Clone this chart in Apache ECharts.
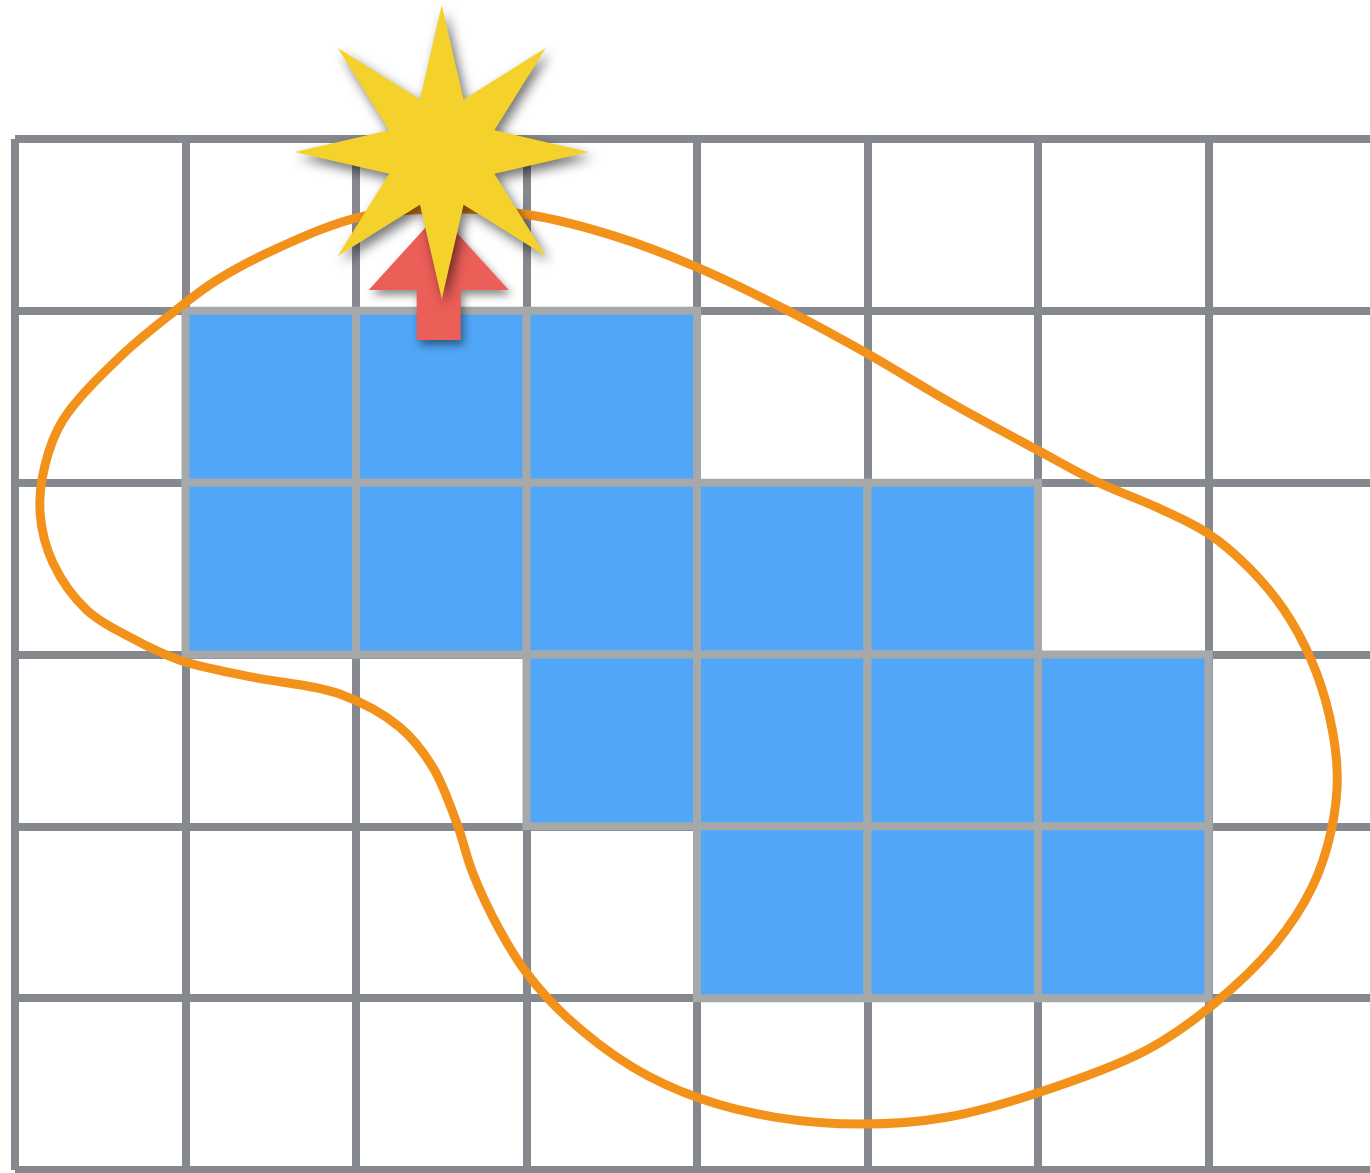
<!DOCTYPE html>
<html>
<head>
<meta charset="utf-8">
<script src="https://cdn.jsdelivr.net/npm/echarts@6/dist/echarts.min.js"></script>
<style>
html,body{margin:0;padding:0;background:#fff;}
#chart{width:1370px;height:1173px;}
</style>
</head>
<body>
<div id="chart"></div>
<script>
// Visible grid extent in cell units (the last column is cut by the page edge)
const xMax = 7.947;
const yMax = 6;

// Filled cells: [column, row] (row 0 = top)
const filledCells = [
  [1,1],[2,1],[3,1],
  [1,2],[2,2],[3,2],[4,2],[5,2],
  [3,3],[4,3],[5,3],[6,3],
  [4,4],[5,4],[6,4]
];

// Closed outline curve points [x, y] in grid units
const outlinePoints = [
  [2.497,0.407],[3.019,0.442],[3.517,0.565],[3.998,0.745],[4.525,0.995],
  [4.994,1.246],[5.481,1.531],[5.996,1.810],[6.360,2.002],[6.694,2.142],
  [6.993,2.293],[7.239,2.497],[7.444,2.742],[7.603,3.033],[7.708,3.353],
  [7.755,3.702],[7.720,4.022],[7.608,4.354],[7.386,4.691],[7.022,5.041],
  [6.635,5.303],[5.991,5.553],[5.463,5.693],[4.971,5.733],[4.455,5.692],
  [4.015,5.583],[3.623,5.402],[3.236,5.111],[3.001,4.854],[2.843,4.604],
  [2.685,4.272],[2.591,3.981],[2.450,3.655],[2.257,3.423],[1.905,3.230],
  [1.395,3.132],[0.967,3.033],[0.674,2.899],[0.422,2.742],[0.223,2.468],
  [0.147,2.177],[0.176,1.898],[0.281,1.636],[0.615,1.269],[0.967,0.978],
  [1.184,0.821],[1.553,0.629],[2.022,0.454]
];

// Marker positions
const starPoint = [[2.503, 0.076]];
const arrowPoint = [[2.485, 0.800]];

// Star shape path (8-pointed)
function starPath(R, r) {
  let d = '';
  for (let i = 0; i < 16; i++) {
    const a = (-90 + i * 22.5) * Math.PI / 180;
    const rad = i % 2 === 0 ? R : r;
    const x = (R + rad * Math.cos(a)).toFixed(2);
    const y = (R + rad * Math.sin(a)).toFixed(2);
    d += (i === 0 ? 'M' : 'L') + x + ' ' + y + ' ';
  }
  return 'path://' + d + 'Z';
}
const arrowPathStr = 'path://M70 0 L140 77 L92 77 L92 127 L48 127 L48 77 L0 77 Z';

// Closed centripetal Catmull-Rom spline through pixel points, as SVG path data
function closedSplinePath(pts) {
  const n = pts.length;
  const dist = (a, b) => Math.pow(Math.hypot(b[0] - a[0], b[1] - a[1]), 0.5) || 1e-6;
  let d = 'M' + pts[0][0].toFixed(2) + ' ' + pts[0][1].toFixed(2);
  for (let i = 0; i < n; i++) {
    const p0 = pts[(i - 1 + n) % n], p1 = pts[i], p2 = pts[(i + 1) % n], p3 = pts[(i + 2) % n];
    const d1 = dist(p0, p1), d2 = dist(p1, p2), d3 = dist(p2, p3);
    const b1 = [0, 1].map(k => (d1 * d1 * p2[k] - d2 * d2 * p0[k] + (2 * d1 * d1 + 3 * d1 * d2 + d2 * d2) * p1[k]) / (3 * d1 * (d1 + d2)));
    const b2 = [0, 1].map(k => (d3 * d3 * p1[k] - d2 * d2 * p3[k] + (2 * d3 * d3 + 3 * d3 * d2 + d2 * d2) * p2[k]) / (3 * d3 * (d3 + d2)));
    d += ' C' + b1[0].toFixed(2) + ' ' + b1[1].toFixed(2) + ' ' + b2[0].toFixed(2) + ' ' + b2[1].toFixed(2) +
         ' ' + p2[0].toFixed(2) + ' ' + p2[1].toFixed(2);
  }
  return d + ' Z';
}

const chart = echarts.init(document.getElementById('chart'), null, {renderer: 'canvas'});

const splitStyle = {show: true, showMinLine: true, showMaxLine: false,
  lineStyle: {color: '#85888c', width: 8}};

chart.setOption({
  backgroundColor: '#ffffff',
  animation: false,
  grid: {left: 15, top: 139, right: 0, bottom: 3, containLabel: false},
  xAxis: {
    type: 'value', min: 0, max: xMax, interval: 1,
    axisLine: {show: false}, axisTick: {show: false}, axisLabel: {show: false},
    splitLine: splitStyle
  },
  yAxis: {
    type: 'value', min: 0, max: yMax, interval: 1, inverse: true,
    axisLine: {show: false}, axisTick: {show: false}, axisLabel: {show: false},
    splitLine: {show: true, lineStyle: {color: '#85888c', width: 8}}
  },
  series: [
    {
      type: 'custom',
      z: 2,
      clip: false,
      data: filledCells,
      renderItem: function (params, api) {
        const c = api.value(0), r = api.value(1);
        const p0 = api.coord([c, r]);
        const p1 = api.coord([c + 1, r + 1]);
        return {
          type: 'rect',
          shape: {
            x: Math.min(p0[0], p1[0]), y: Math.min(p0[1], p1[1]),
            width: Math.abs(p1[0] - p0[0]), height: Math.abs(p1[1] - p0[1])
          },
          style: {fill: '#51a6f7', stroke: '#a6a9a9', lineWidth: 8}
        };
      }
    },
    {
      type: 'custom',
      z: 3,
      clip: false,
      data: [[0, 0]],
      renderItem: function (params, api) {
        const pts = outlinePoints.map(function (p) { return api.coord(p); });
        return {
          type: 'path',
          shape: {pathData: closedSplinePath(pts)},
          style: {fill: 'none', stroke: '#f3921a', lineWidth: 9, lineJoin: 'round'}
        };
      }
    },
    {
      type: 'scatter',
      z: 4,
      clip: false,
      data: arrowPoint,
      symbol: arrowPathStr,
      symbolSize: [140, 127],
      itemStyle: {
        color: '#ec5e58', opacity: 1,
        shadowBlur: 8, shadowColor: 'rgba(0,0,0,0.45)', shadowOffsetX: 3, shadowOffsetY: 5
      }
    },
    {
      type: 'scatter',
      z: 5,
      clip: false,
      data: starPoint,
      symbol: starPath(147, 57),
      symbolSize: [294, 294],
      itemStyle: {
        color: '#f5d22b', opacity: 1,
        shadowBlur: 12, shadowColor: 'rgba(0,0,0,0.55)', shadowOffsetX: 4, shadowOffsetY: 6
      }
    }
  ]
});
</script>
</body>
</html>
